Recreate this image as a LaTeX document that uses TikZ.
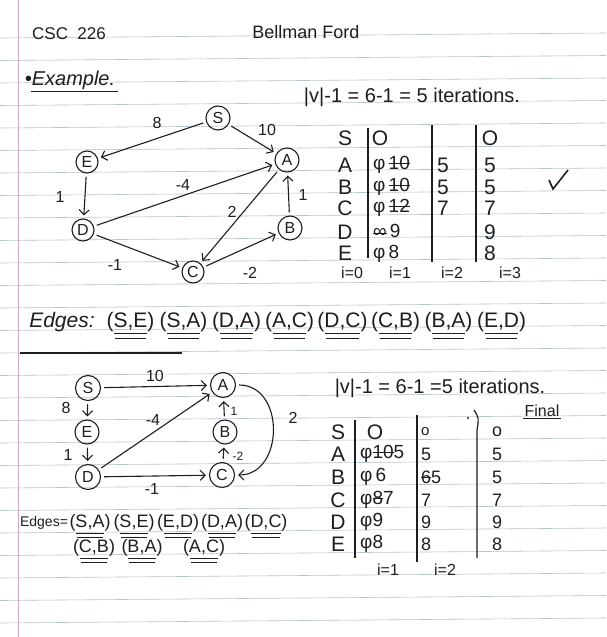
\documentclass[tikz,border=0pt]{standalone}
\usepackage{fontspec}
\setmainfont{Liberation Sans}
\usetikzlibrary{arrows.meta}
\newcommand{\handsz}[1]{\fontsize{#1}{#1}\selectfont}
\newcommand{\strk}[1]{\sbox0{#1}\rlap{\rule[0.4\ht0]{\wd0}{0.9pt}}\usebox0}
\definecolor{ink}{HTML}{1E1E1E}
\definecolor{ruling}{HTML}{B9C3CB}
\definecolor{marginred}{HTML}{CDA6C8}
\tikzset{
  vtx/.style={circle, draw=ink, line width=1.1pt, inner sep=0pt, minimum size=24pt, text=ink, font=\handsz{16}},
  hand/.style={draw=ink, line width=1.1pt, -{Straight Barb[length=5pt,width=10pt]}, shorten >=3pt, shorten <=3pt},
  wt/.style={text=ink, font=\handsz{16}},
  cell/.style={text=ink, font=\handsz{21}, inner sep=0pt},
  pairtxt/.style={text=ink, font=\handsz{21}, inner sep=0pt},
  uline/.style={draw=ink, line width=1pt},
  bar/.style={draw=ink, line width=1.2pt},
}
\begin{document}
\begin{tikzpicture}[x=1pt,y=-1pt]
    \useasboundingbox (0,0) rectangle (606,637);
    \fill[white] (0,0) rectangle (606,637);
    % paper
    \foreach \k in {0,...,26}
        \draw[ruling, line width=0.6pt] (0,{38+22.5*\k}) -- (606,{33+22.5*\k});
    \draw[marginred, line width=0.8pt] (18,0) -- (18,637);

    % heading
    \node[text=ink, font=\handsz{17}] (course) at (69,34) {CSC\ \ 226};
    \node[text=ink, font=\handsz{18}] (title) at (306,32) {Bellman Ford};
    \node[text=ink, font=\handsz{20}\itshape] (example) at (70,80) {\textbullet Example.};
    \draw[uline] (31,91) -- (118,91);
    \node[text=ink, font=\handsz{20}] (iter) at (412,97) {|v|-1 = 6-1 = 5 iterations.};

    % first graph
    \node[vtx] (S) at (218,118) {S};
    \node[vtx, minimum size=22pt] (E) at (87,162) {E};
    \node[vtx] (A) at (287,160) {A};
    \node[vtx, minimum size=22pt] (D) at (83,230) {D};
    \node[vtx] (B) at (290,228) {B};
    \node[vtx, minimum size=22pt] (C) at (193,272) {C};

    \draw[hand] (S) -- (E);
    \draw[hand] (S) -- (A);
    \draw[hand] (E) -- (D);
    \draw[hand] (D) -- (A);
    \draw[hand] (A) -- (C);
    \draw[hand] (B) -- (A);
    \draw[hand] (D) -- (C);
    \draw[hand] (C) -- (B);

    \node[wt] (wSE) at (157,123) {8};
    \node[wt] (wSA) at (267,130) {10};
    \node[wt] (wED) at (60,197) {1};
    \node[wt] (wDA) at (183,185) {-4};
    \node[wt] (wAC) at (232,212) {2};
    \node[wt] (wBA) at (303,195) {1};
    \node[wt] (wDC) at (115,265) {-1};
    \node[wt] (wCB) at (250,273) {-2};

    % first table
    \foreach \n/\y in {S/138,A/165,B/187,C/208,D/232,E/253}
        \node[cell] (a\n) at (345,\y) {\n};
    \draw[bar] (368,128) -- (368,258);
    \draw[bar] (432,125) -- (432,262);
    \draw[bar] (476,125) -- (476,262);
    \node[cell] (a1S) at (380,138) {O};
    \node[cell, font=\handsz{19}, anchor=west] (a1A) at (373,165) {φ\,\strk{10}};
    \node[cell, font=\handsz{19}, anchor=west] (a1B) at (373,187) {φ\,\strk{10}};
    \node[cell, font=\handsz{19}, anchor=west] (a1C) at (373,208) {φ\,\strk{12}};
    \node[cell, font=\handsz{19}, anchor=west] (a1D) at (373,231) {\strk{∞}\,9};
    \node[cell, font=\handsz{19}, anchor=west] (a1E) at (373,254) {φ\,8};
    \node[cell] (a2A) at (443,165) {5};
    \node[cell] (a2B) at (443,187) {5};
    \node[cell] (a2C) at (443,208) {7};
    \foreach \n/\v/\y in {S/O/138,A/5/165,B/5/187,C/7/208,D/9/232,E/8/253}
        \node[cell] (a3\n) at (490,\y) {\v};
    \draw[ink, line width=1.6pt] (549,180) -- (553,189) -- (568,170);
    \foreach \i/\x in {0/352,1/400,2/452,3/510}
        \node[wt] (ai\i) at (\x,273) {i=\i};

    % edge list
    \node[text=ink, font=\handsz{21}\itshape] (edges) at (62,322) {Edges:};
    \foreach \a/\b [count=\i from 0] in {S/E,S/A,D/A,A/C,D/C,C/B,B/A,E/D} {
        \node[pairtxt] (ea\i) at ({130.5+53*\i},322) {(\a,\b)};
        \draw[uline] ([xshift=8pt,yshift=-11pt]ea\i.west) -- ([xshift=-8pt,yshift=-11pt]ea\i.east);
        \draw[uline] ([xshift=9pt,yshift=-16pt]ea\i.west) -- ([xshift=-9pt,yshift=-16pt]ea\i.east);
    }
    \draw[ink, line width=1.6pt] (20,353) -- (182,353);

    % second graph
    \node[vtx, minimum size=25pt] (S2) at (88,388) {S};
    \node[vtx, minimum size=25pt] (A2) at (223,385) {A};
    \node[vtx] (E2) at (87,432) {E};
    \node[vtx] (B2) at (225,432) {B};
    \node[vtx, minimum size=25pt] (D2) at (88,477) {D};
    \node[vtx, minimum size=25pt] (C2) at (222,475) {C};

    \draw[hand] (S2) -- (A2);
    \draw[hand] (S2) -- (E2);
    \draw[hand] (E2) -- (D2);
    \draw[hand] (D2) -- (A2);
    \draw[hand] (D2) -- (C2);
    \draw[hand] (B2) -- (A2);
    \draw[hand] (C2) -- (B2);
    \draw[hand] (A2.east) to[out=0,in=0,looseness=1.4] (C2.east);

    \node[wt] (vSA) at (155,376) {10};
    \node[wt] (vSE) at (66,408) {8};
    \node[wt] (vED) at (68,455) {1};
    \node[wt] (vDA) at (153,420) {-4};
    \node[wt] (vDC) at (152,489) {-1};
    \node[wt, font=\handsz{12}] (vBA) at (234,411) {1};
    \node[wt, font=\handsz{12}] (vCB) at (238,456) {-2};
    \node[wt] (vAC) at (293,418) {2};

    \node[text=ink, font=\handsz{14}] (edges2) at (44,523) {Edges=};
    \foreach \a/\b [count=\i from 0] in {S/A,S/E,E/D,D/A,D/C} {
        \node[pairtxt, font=\handsz{18}] (eb\i) at ({90+44*\i},523) {(\a,\b)};
        \draw[uline] ([xshift=7pt,yshift=-10pt]eb\i.west) -- ([xshift=-7pt,yshift=-10pt]eb\i.east);
        \draw[uline] ([xshift=8pt,yshift=-14pt]eb\i.west) -- ([xshift=-8pt,yshift=-14pt]eb\i.east);
    }
    \foreach \a/\b/\x [count=\i from 0] in {C/B/94,B/A/142,A/C/204} {
        \node[pairtxt, font=\handsz{18}] (ec\i) at (\x,548) {(\a,\b)};
        \draw[uline] ([xshift=7pt,yshift=-10pt]ec\i.west) -- ([xshift=-7pt,yshift=-10pt]ec\i.east);
        \draw[uline] ([xshift=8pt,yshift=-14pt]ec\i.west) -- ([xshift=-8pt,yshift=-14pt]ec\i.east);
    }

    % second table
    \node[text=ink, font=\handsz{20}] (iter2) at (440,388) {|v|-1 = 6-1 =5 iterations.};
    \node[text=ink, font=\handsz{16}, inner sep=1pt] (final) at (542,411) {Final};
    \draw[uline] (final.south west) -- (final.south east);
    \foreach \n/\y in {S/432,A/454,B/477,C/500,D/522,E/544}
        \node[cell] (b\n) at (338,\y) {\n};
    \draw[bar] (355,420) -- (355,558);
    \draw[bar] (417,415) -- (417,562);
    \draw[bar] (474,410) .. controls (479,418) .. (477,430) -- (477,558);
    \fill[ink] (468,418) circle (1.2);
    \node[cell] (b1S) at (375,432) {O};
    \node[cell, font=\handsz{19}, anchor=west] (b1A) at (360,454) {φ\strk{10}5};
    \node[cell, font=\handsz{19}, anchor=west] (b1B) at (360,477) {φ\,6};
    \node[cell, font=\handsz{19}, anchor=west] (b1C) at (360,500) {φ\strk{8}7};
    \node[cell, font=\handsz{19}, anchor=west] (b1D) at (360,522) {φ9};
    \node[cell, font=\handsz{19}, anchor=west] (b1E) at (360,544) {φ8};
    \node[cell, font=\handsz{15}, anchor=west] (b2S) at (421,432) {o};
    \node[cell, font=\handsz{18}, anchor=west] (b2A) at (421,454) {5};
    \node[cell, font=\handsz{18}, anchor=west] (b2B) at (421,477) {\strk{6}5};
    \node[cell, font=\handsz{18}, anchor=west] (b2C) at (421,500) {7};
    \node[cell, font=\handsz{18}, anchor=west] (b2D) at (421,522) {9};
    \node[cell, font=\handsz{18}, anchor=west] (b2E) at (421,544) {8};
    \foreach \n/\v/\y in {S/o/432,A/5/454,B/5/477,C/7/500,D/9/522,E/8/544}
        \node[cell, font=\handsz{18}] (b3\n) at (497,\y) {\v};
    \node[wt] (bi1) at (388,570) {i=1};
    \node[wt] (bi2) at (445,570) {i=2};
\end{tikzpicture}
\end{document}
